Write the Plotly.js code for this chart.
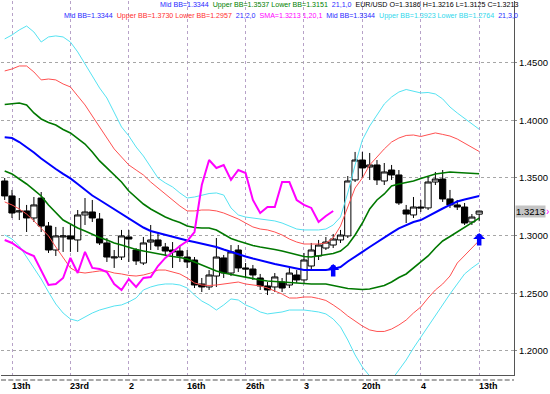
<!DOCTYPE html>
<html>
<head>
<meta charset="utf-8">
<script src="https://cdn.plot.ly/plotly-3.0.1.min.js"></script>
<style>html,body{margin:0;padding:0;background:#fff;}#chart{width:550px;height:394px;}</style>
</head>
<body>
<div id="chart"></div>
<script>
// ---- data (EUR/USD daily) ----
var openP = [1.3474,1.3344,1.3205,1.3214,1.3153,1.3326,1.3083,1.2875,1.2988,1.2997,
1.2962,1.3179,1.3205,1.3144,1.2936,1.2806,1.2814,1.2988,1.2875,1.2762,
1.2944,1.2962,1.2901,1.2875,1.2866,1.2814,1.2788,1.2580,1.2554,1.2649,
1.2806,1.2675,1.2875,1.2719,1.2710,1.2632,1.2563,1.2554,1.2597,1.2571,
1.2658,1.2615,1.2736,1.2823,1.2892,1.2918,1.2962,1.2997,1.3483,1.3656,
1.3595,1.3613,1.3474,1.3569,1.3526,1.3222,1.3179,1.3248,1.3240,1.3465,
1.3491,1.3318,1.3266,1.3248,1.3118,1.3186];
var highP = [1.3500,1.3396,1.3326,1.3266,1.3335,1.3378,1.3118,1.3075,1.3075,1.3092,
1.3222,1.3326,1.3309,1.3196,1.2979,1.2875,1.3049,1.3049,1.2892,1.2988,
1.3092,1.3031,1.2936,1.2944,1.2918,1.2875,1.2814,1.2632,1.2701,1.2979,
1.2832,1.2918,1.2918,1.2762,1.2745,1.2667,1.2597,1.2675,1.2632,1.2719,
1.2701,1.2849,1.2936,1.2962,1.2988,1.3014,1.3049,1.3517,1.3726,1.3726,
1.3717,1.3656,1.3630,1.3613,1.3569,1.3266,1.3335,1.3309,1.3509,1.3552,
1.3569,1.3396,1.3309,1.3283,1.3187,1.3216];
var lowP = [1.3309,1.3153,1.3135,1.3031,1.3118,1.3031,1.2849,1.2823,1.2858,1.2858,
1.2858,1.3092,1.3118,1.2918,1.2771,1.2719,1.2788,1.2771,1.2745,1.2745,
1.2875,1.2875,1.2823,1.2719,1.2771,1.2719,1.2545,1.2510,1.2528,1.2554,
1.2632,1.2649,1.2684,1.2632,1.2615,1.2528,1.2484,1.2510,1.2510,1.2545,
1.2589,1.2589,1.2701,1.2788,1.2875,1.2892,1.2936,1.2979,1.3465,1.3500,
1.3483,1.3439,1.3439,1.3483,1.3266,1.3109,1.3153,1.3205,1.3222,1.3439,
1.3292,1.3240,1.3222,1.3092,1.3092,1.3125];
var closeP = [1.3344,1.3196,1.3214,1.3153,1.3266,1.3083,1.2875,1.2997,1.2997,1.2970,
1.3179,1.3205,1.3153,1.2936,1.2814,1.2814,1.2997,1.2970,1.2780,1.2936,
1.2962,1.2910,1.2866,1.2858,1.2823,1.2771,1.2571,1.2554,1.2658,1.2814,
1.2675,1.2858,1.2719,1.2710,1.2658,1.2563,1.2528,1.2641,1.2545,1.2675,
1.2615,1.2788,1.2875,1.2918,1.2944,1.2970,1.3005,1.3474,1.3656,1.3587,
1.3613,1.3483,1.3552,1.3526,1.3283,1.3187,1.3248,1.3240,1.3465,1.3491,
1.3318,1.3266,1.3248,1.3109,1.3161,1.3213];

// Bollinger bands (21) : mid, +-1, +-2, +-3 sigma
var midBB = [1.3853,1.3847,1.3812,1.3769,1.3721,1.3669,1.3621,1.3578,1.3535,1.3496,
1.3448,1.3396,1.3348,1.3309,1.3270,1.3231,1.3192,1.3153,1.3109,1.3070,
1.3040,1.3023,1.3005,1.2988,1.2970,1.2957,1.2944,1.2931,1.2918,1.2901,
1.2879,1.2858,1.2836,1.2819,1.2801,1.2784,1.2771,1.2753,1.2740,1.2727,
1.2714,1.2701,1.2701,1.2701,1.2701,1.2710,1.2727,1.2775,1.2814,1.2858,
1.2901,1.2944,1.2983,1.3023,1.3062,1.3092,1.3118,1.3135,1.3170,1.3205,
1.3235,1.3266,1.3296,1.3313,1.3331,1.3344];
var upper1 = [1.4138,1.4142,1.4151,1.4134,1.4064,1.4012,1.3982,1.3960,1.3921,1.3891,
1.3843,1.3795,1.3726,1.3648,1.3587,1.3530,1.3465,1.3387,1.3326,1.3274,
1.3231,1.3196,1.3161,1.3135,1.3114,1.3083,1.3070,1.3066,1.3066,1.3049,
1.3014,1.2975,1.2953,1.2931,1.2914,1.2901,1.2892,1.2879,1.2866,1.2849,
1.2832,1.2819,1.2814,1.2823,1.2832,1.2845,1.2866,1.2918,1.3005,1.3109,
1.3231,1.3309,1.3361,1.3431,1.3448,1.3461,1.3474,1.3496,1.3517,1.3535,
1.3543,1.3552,1.3548,1.3543,1.3539,1.3537];
var lower1 = [1.3561,1.3535,1.3491,1.3448,1.3396,1.3344,1.3266,1.3196,1.3135,1.3101,
1.3066,1.3040,1.3010,1.2983,1.2962,1.2936,1.2918,1.2897,1.2879,1.2866,
1.2853,1.2840,1.2832,1.2819,1.2810,1.2797,1.2771,1.2745,1.2719,1.2693,
1.2675,1.2662,1.2649,1.2641,1.2628,1.2615,1.2606,1.2602,1.2593,1.2589,
1.2584,1.2584,1.2580,1.2580,1.2580,1.2567,1.2554,1.2541,1.2536,1.2532,
1.2536,1.2550,1.2567,1.2597,1.2636,1.2667,1.2719,1.2771,1.2823,1.2892,
1.2953,1.2992,1.3031,1.3075,1.3114,1.3151];
var upper2 = [1.4429,1.4446,1.4472,1.4472,1.4420,1.4351,1.4359,1.4351,1.4316,1.4290,
1.4212,1.4134,1.4038,1.3943,1.3856,1.3752,1.3682,1.3613,1.3569,1.3526,
1.3465,1.3413,1.3361,1.3309,1.3257,1.3214,1.3214,1.3222,1.3222,1.3214,
1.3196,1.3170,1.3144,1.3109,1.3075,1.3057,1.3049,1.3031,1.3005,1.2970,
1.2944,1.2927,1.2927,1.2927,1.2936,1.2979,1.3083,1.3240,1.3413,1.3500,
1.3613,1.3682,1.3752,1.3812,1.3847,1.3869,1.3873,1.3860,1.3873,1.3891,
1.3878,1.3864,1.3838,1.3804,1.3765,1.3730];
var lower2 = [1.3292,1.3266,1.3231,1.3187,1.3127,1.3066,1.2997,1.2901,1.2806,1.2719,
1.2684,1.2675,1.2684,1.2693,1.2693,1.2675,1.2667,1.2654,1.2649,1.2658,
1.2675,1.2701,1.2701,1.2684,1.2667,1.2632,1.2589,1.2571,1.2567,1.2571,
1.2580,1.2589,1.2597,1.2580,1.2571,1.2563,1.2545,1.2519,1.2493,1.2458,
1.2458,1.2467,1.2467,1.2454,1.2437,1.2398,1.2354,1.2302,1.2259,1.2215,
1.2181,1.2168,1.2168,1.2189,1.2224,1.2267,1.2328,1.2380,1.2458,1.2528,
1.2580,1.2649,1.2762,1.2823,1.2892,1.2957];
var upper3 = [1.4707,1.4741,1.4785,1.4819,1.4767,1.4680,1.4724,1.4733,1.4724,1.4680,
1.4594,1.4489,1.4377,1.4281,1.4194,1.4073,1.3943,1.3865,1.3769,1.3691,
1.3595,1.3500,1.3457,1.3422,1.3370,1.3326,1.3335,1.3352,1.3365,1.3370,
1.3352,1.3240,1.3179,1.3161,1.3153,1.3144,1.3135,1.3127,1.3109,1.3083,
1.3057,1.3049,1.3049,1.3049,1.3057,1.3092,1.3161,1.3370,1.3613,1.3830,
1.3951,1.4047,1.4142,1.4203,1.4246,1.4268,1.4255,1.4238,1.4242,1.4229,
1.4186,1.4116,1.4064,1.4016,1.3969,1.3923];
var lower3 = [1.3005,1.2970,1.2910,1.2814,1.2719,1.2623,1.2510,1.2406,1.2328,1.2276,
1.2259,1.2293,1.2328,1.2354,1.2372,1.2389,1.2398,1.2424,1.2458,1.2528,
1.2554,1.2571,1.2580,1.2580,1.2571,1.2545,1.2484,1.2432,1.2398,1.2354,
1.2398,1.2450,1.2441,1.2398,1.2372,1.2337,1.2320,1.2328,1.2337,1.2354,
1.2354,1.2354,1.2346,1.2337,1.2320,1.2276,1.2207,1.2094,1.1964,1.1859,
1.1781,1.1729,1.1712,1.1747,1.1833,1.1920,1.2024,1.2120,1.2215,1.2302,
1.2398,1.2493,1.2580,1.2667,1.2719,1.2764];
// SMA(1) shifted back 20 bars
var lagLine = [1.2962,1.2936,1.2892,1.2849,1.2823,1.2693,1.2571,1.2580,1.2632,1.2806,
1.2675,1.2858,1.2719,1.2710,1.2684,1.2580,1.2528,1.2623,1.2554,1.2632,
1.2641,1.2736,1.2806,1.2858,1.2910,1.2953,1.3031,1.3439,1.3656,1.3587,
1.3613,1.3483,1.3569,1.3543,1.3309,1.3196,1.3248,1.3248,1.3465,1.3465,
1.3309,1.3266,1.3240,1.3118,1.3170,1.3213];

var tickIdx = [1,9,17,25,33,41,49,57,65];
var tickText = ['13th','23rd','2','16th','26th','3','20th','4','13th'];
var yTicks = [1.20,1.25,1.30,1.35,1.40,1.45];
var signalIdx = [45,65];
var signalPrice = [1.2753,1.3023];
var lastPrice = 1.3213;

// header legend segments: [text, colour]
var header1 = [['Mid BB=1.3344','#2a2aff'],['Upper BB=1.3537 Lower BB=1.3151','#008000'],
  ['21,1,0','#2a2aff'],['EUR/USD O=1.3186 H=1.3216 L=1.3125 C=1.3213','#000000']];
var header2 = [['Mid BB=1.3344','#2a2aff'],['Upper BB=1.3730 Lower BB=1.2957','#ff3030'],
  ['21,2,0','#2a2aff'],['SMA=1.3213 1,20,1','#ff00ff'],['Mid BB=1.3344','#2a2aff'],
  ['Upper BB=1.3923 Lower BB=1.2764','#30d8ec'],['21,3,0','#2a2aff']];

// ---- build ----
var idx = closeP.map(function(_, i){ return i; });
var lagIdx = lagLine.map(function(_, i){ return i; });

function line(y, color, width, xs){
  return {type:'scatter', mode:'lines', x: xs || idx, y: y, hoverinfo:'skip',
          line:{color:color, width:width}};
}

var traces = [
  {type:'candlestick', x: idx, open: openP, high: highP, low: lowP, close: closeP,
   increasing:{line:{color:'#000000', width:1}, fillcolor:'#ffffff'},
   decreasing:{line:{color:'#000000', width:1}, fillcolor:'#000000'},
   whiskerwidth:0, hoverinfo:'skip'},
  line(upper3, '#55e3f2', 1),
  line(lower3, '#55e3f2', 1),
  line(upper2, '#ff5050', 1),
  line(lower2, '#ff5050', 1),
  line(upper1, '#007800', 1.6),
  line(lower1, '#007800', 1.6),
  line(midBB, '#0000ff', 2),
  line(lagLine, '#ff00ff', 2, lagIdx)
];

var PL = 1, PR = 514, PT = 1, PB = 375;
function px2paperX(px){ return (px - PL) / (PR - PL); }
function px2paperY(py){ return (PB - py) / (PB - PT); }

function rich(segs){
  return segs.map(function(s){ return '<span style="color:' + s[1] + '">' + s[0] + '</span>'; }).join('  ');
}

var hdrFont = 'Liberation Sans, Arial, sans-serif';
var annotations = [];
[[header1, 5], [header2, 16]].forEach(function(h){
  annotations.push({text:rich(h[0]), xref:'paper', yref:'paper', x:px2paperX(519), y:px2paperY(h[1]),
    xanchor:'right', yanchor:'middle', showarrow:false, borderpad:0,
    font:{family:hdrFont, size:7.1, color:'#000'}});
});
tickIdx.forEach(function(t, i){
  annotations.push({text:tickText[i], xref:'x', yref:'paper', x:t, y:px2paperY(386),
    xanchor:'left', yanchor:'middle', showarrow:false, xshift:-2,
    font:{family:'Liberation Sans, Arial, sans-serif', size:9, color:'#000', weight:'bold'}});
});
signalIdx.forEach(function(s, i){
  annotations.push({text:'', xref:'x', yref:'y', x:s, y:signalPrice[i], showarrow:true,
    ax:0, ay:14, arrowhead:1, arrowsize:0.45, arrowwidth:4.5, arrowcolor:'#0000ff', standoff:0});
});
annotations.push({text:lastPrice.toFixed(4), xref:'paper', yref:'y', x:px2paperX(516), y:lastPrice,
  xanchor:'left', yanchor:'middle', showarrow:false, bgcolor:'#c4c4c4', borderpad:0, xshift:-1,
  font:{family:'Liberation Sans, Arial, sans-serif', size:9.5, color:'#000'}});
annotations.push({text:'›', xref:'paper', yref:'y', x:px2paperX(544), y:lastPrice,
  xanchor:'left', yanchor:'middle', showarrow:false,
  font:{family:'Liberation Sans, Arial, sans-serif', size:10, color:'#ff00ff'}});

var layout = {
  width:550, height:394,
  margin:{l:PL, r:550-PR, t:PT, b:394-PB, pad:0},
  paper_bgcolor:'#ffffff', plot_bgcolor:'#ffffff',
  showlegend:false,
  boxgap:0.15, boxgroupgap:0,
  xaxis:{range:[-0.507, 69.77], tickvals:tickIdx, showticklabels:false, ticks:'',
    showgrid:true, gridcolor:'#b7a2c8', griddash:'dot', gridwidth:1,
    zeroline:false, showline:true, linecolor:'#555555', linewidth:1,
    rangeslider:{visible:false}, fixedrange:true},
  yaxis:{side:'right', range:[1.1790, 1.5036], tickvals:yTicks, tickformat:'.4f',
    tickfont:{family:'Liberation Sans, Arial, sans-serif', size:9.5, color:'#000'},
    ticks:'outside', ticklen:2, tickcolor:'#888888',
    showgrid:true, gridcolor:'#a6a6a6', griddash:'dot', gridwidth:1,
    zeroline:false, showline:true, linecolor:'#555555', linewidth:1, fixedrange:true},
  annotations: annotations,
  shapes:[
    {type:'line', xref:'paper', yref:'paper', x0:0, x1:1.0, y0:px2paperY(380), y1:px2paperY(380),
     line:{color:'#a8a8a8', width:2, dash:'5px,2.3px'}}
  ]
};

Plotly.newPlot('chart', traces, layout, {displayModeBar:false, staticPlot:true});
</script>
</body>
</html>
